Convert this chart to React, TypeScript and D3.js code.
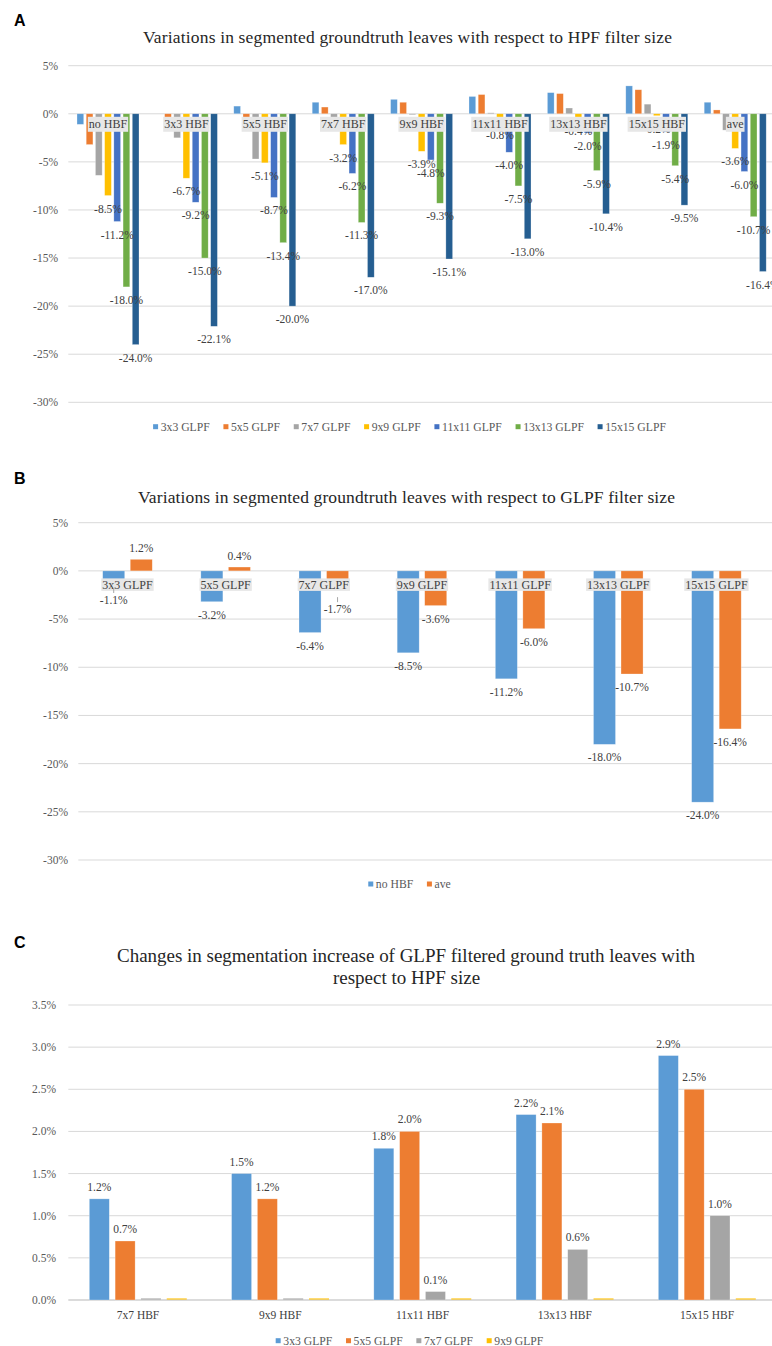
import React from "react";
import * as d3 from "d3";

// ---------- DATA ----------
const glpfSeries = ["3x3 GLPF", "5x5 GLPF", "7x7 GLPF", "9x9 GLPF", "11x11 GLPF", "13x13 GLPF", "15x15 GLPF"];
const hbfCategories = ["no HBF", "3x3 HBF", "5x5 HBF", "7x7 HBF", "9x9 HBF", "11x11 HBF", "13x13 HBF", "15x15 HBF", "ave"];

// values per GLPF series across the HBF categories (percent)
const g3x3 = [-1.1, 0.0, 0.8, 1.2, 1.5, 1.8, 2.2, 2.9, 1.2];
const g5x5 = [-3.2, -0.5, -0.5, 0.7, 1.2, 2.0, 2.1, 2.5, 0.4];
const g7x7 = [-6.4, -2.5, -4.7, -0.5, -0.1, 0.1, 0.6, 1.0, -1.7];
const g9x9 = [-8.5, -6.7, -5.1, -3.2, -3.9, -0.8, -0.4, -0.2, -3.6];
const g11x11 = [-11.2, -9.2, -8.7, -6.2, -4.8, -4.0, -2.0, -1.9, -6.0];
const g13x13 = [-18.0, -15.0, -13.4, -11.3, -9.3, -7.5, -5.9, -5.4, -10.7];
const g15x15 = [-24.0, -22.1, -20.0, -17.0, -15.1, -13.0, -10.4, -9.5, -16.4];
const seriesValues = [g3x3, g5x5, g7x7, g9x9, g11x11, g13x13, g15x15];

const seriesColors = ["#5B9BD5", "#ED7D31", "#A5A5A5", "#FFC000", "#4472C4", "#70AD47", "#255E91"];

const yTicksAB = [5, 0, -5, -10, -15, -20, -25, -30];
const yTicksC = [0, 0.5, 1.0, 1.5, 2.0, 2.5, 3.0, 3.5];

const panelBSeries = ["no HBF", "ave"];
const panelBColors = ["#5B9BD5", "#ED7D31"];
const panelCCategories = ["7x7 HBF", "9x9 HBF", "11x11 HBF", "13x13 HBF", "15x15 HBF"];
const panelCSeries = ["3x3 GLPF", "5x5 GLPF", "7x7 GLPF", "9x9 GLPF"];

const titleA = "Variations in segmented groundtruth leaves with respect to HPF filter size";
const titleB = "Variations in segmented groundtruth leaves with respect to GLPF filter size";
const titleC1 = "Changes in segmentation increase of GLPF filtered ground truth leaves with";
const titleC2 = "respect to HPF size";

// ---------- HELPERS ----------
const SERIF = "'Liberation Serif', 'Times New Roman', serif";
const SANS = "'Liberation Sans', Arial, sans-serif";
let ctx: CanvasRenderingContext2D | null = null;
function measure(text: string, size: number): number {
  if (!ctx) ctx = document.createElement("canvas").getContext("2d");
  if (!ctx) return text.length * size * 0.5;
  ctx.font = `${size}px 'Liberation Serif'`;
  return ctx.measureText(text).width;
}
const pct0 = (v: number) => `${v}%`;
const pct1 = (v: number) => `${v.toFixed(1)}%`;

const GRID = "#d9d9d9";
const TICK = "#595959";
const LABEL = "#404040";
const BOX = "#e7e7e7";

function Legend({ items, colors, cy, center }: { items: string[]; colors: string[]; cy: number; center: number }) {
  const fs = 11.7;
  const sq = 5;
  const gapTxt = 2.6;
  const gapItem = 13.7;
  const widths = items.map((t) => sq + gapTxt + measure(t, fs));
  const total = d3.sum(widths) + gapItem * (items.length - 1);
  let x = center - total / 2;
  return (
    <g>
      {items.map((t, i) => {
        const x0 = x;
        x += widths[i] + gapItem;
        return (
          <g key={t}>
            <rect x={x0} y={cy - sq / 2} width={sq} height={sq} fill={colors[i]} />
            <text x={x0 + sq + gapTxt} y={cy} dy="0.35em" fontSize={fs} fontFamily={SERIF} fill={TICK}>
              {t}
            </text>
          </g>
        );
      })}
    </g>
  );
}

function CatBox({ label, cx, top, h, fs }: { label: string; cx: number; top: number; h: number; fs: number }) {
  const w = measure(label, fs) + 2;
  return (
    <g>
      <rect x={cx - w / 2} y={top} width={w} height={h} fill={BOX} />
      <text x={cx} y={top + h / 2} dy="0.35em" textAnchor="middle" fontSize={fs} fontFamily={SERIF} fill={LABEL}>
        {label}
      </text>
    </g>
  );
}

// ---------- PANEL A ----------
function PanelA() {
  const x = d3.scaleBand<string>().domain(hbfCategories).range([68.8, 774.4]).paddingInner(0.209).paddingOuter(0.1045);
  const xi = d3.scaleBand<string>().domain(glpfSeries).range([0, x.bandwidth()]).paddingInner(0.27);
  const y = d3.scaleLinear().domain([-30, 5]).range([402.3, 65.7]);
  const y0 = y(0);
  return (
    <g>
      <text x={14} y={26} fontFamily={SANS} fontWeight="bold" fontSize={16} fill="#000">A</text>
      <text x={407.5} y={43} textAnchor="middle" fontSize={17.5} fontFamily={SERIF} fill="#262626" textLength={529} lengthAdjust="spacing">
        {titleA}
      </text>
      {yTicksAB.map((t) => (
        <g key={t}>
          <line x1={68.3} x2={772} y1={y(t)} y2={y(t)} stroke={GRID} strokeWidth={1} />
          <text x={58} y={y(t)} dy="0.35em" textAnchor="end" fontSize={11.5} fontFamily={SERIF} fill={TICK}>{pct0(t)}</text>
        </g>
      ))}
      {glpfSeries.map((s, si) =>
        hbfCategories.map((c, ci) => {
          const v = seriesValues[si][ci];
          const yv = y(v);
          return (
            <rect key={s + c} x={(x(c) as number) + (xi(s) as number)} y={Math.min(yv, y0)} width={xi.bandwidth()}
              height={Math.abs(yv - y0)} fill={seriesColors[si]} stroke="#fff" strokeOpacity={0.45} strokeWidth={0.6} />
          );
        })
      )}
      {glpfSeries.map((s, si) =>
        si < 3
          ? null
          : hbfCategories.map((c, ci) => {
              const v = seriesValues[si][ci];
              const cx = (x(c) as number) + (xi(s) as number) + xi.bandwidth() / 2;
              return (
                <text key={"l" + s + c} x={cx} y={y(v) + 13} dy="0.35em" textAnchor="middle" fontSize={11.5} fontFamily={SERIF} fill={LABEL}>
                  {pct1(v)}
                </text>
              );
            })
      )}
      {hbfCategories.map((c) => (
        <CatBox key={"b" + c} label={c} cx={(x(c) as number) + x.bandwidth() / 2} top={y0 + 3} h={15} fs={12} />
      ))}
      <Legend items={glpfSeries} colors={seriesColors} cy={426.7} center={409.5} />
    </g>
  );
}

// ---------- PANEL B ----------
function PanelB() {
  const x = d3.scaleBand<string>().domain(glpfSeries).range([78.4, 765.5]).paddingInner(0.495).paddingOuter(0.2475);
  const xi = d3.scaleBand<string>().domain(panelBSeries).range([0, x.bandwidth()]).paddingInner(0.2);
  const y = d3.scaleLinear().domain([-30, 5]).range([860, 522.7]);
  const y0 = y(0);
  const boxTop = y0 + 7.5;
  const boxH = 12.5;
  const vals = (si: number) => [seriesValues[si][0], seriesValues[si][hbfCategories.length - 1]];
  return (
    <g>
      <text x={14} y={484} fontFamily={SANS} fontWeight="bold" fontSize={16} fill="#000">B</text>
      <text x={406.5} y={502.5} textAnchor="middle" fontSize={17.5} fontFamily={SERIF} fill="#262626" textLength={537} lengthAdjust="spacing">
        {titleB}
      </text>
      {yTicksAB.map((t) => (
        <g key={t}>
          <line x1={78.3} x2={772} y1={y(t)} y2={y(t)} stroke={GRID} strokeWidth={1} />
          <text x={68} y={y(t)} dy="0.35em" textAnchor="end" fontSize={11.5} fontFamily={SERIF} fill={TICK}>{pct0(t)}</text>
        </g>
      ))}
      {glpfSeries.map((c, ci) =>
        vals(ci).map((v, k) => {
          const yv = y(v);
          return (
            <rect key={c + k} x={(x(c) as number) + (xi(panelBSeries[k]) as number)} y={Math.min(yv, y0)}
              width={xi.bandwidth()} height={Math.abs(yv - y0)} fill={panelBColors[k]} stroke="#fff" strokeOpacity={0.45} strokeWidth={0.6} />
          );
        })
      )}
      {glpfSeries.map((c) => (
        <CatBox key={"b" + c} label={c} cx={(x(c) as number) + x.bandwidth() / 2} top={boxTop} h={boxH} fs={12} />
      ))}
      {glpfSeries.map((c, ci) =>
        vals(ci).map((v, k) => {
          const cx = (x(c) as number) + (xi(panelBSeries[k]) as number) + xi.bandwidth() / 2;
          const yv = y(v);
          const leader = v < 0 && yv < boxTop + boxH;
          const ly = v >= 0 ? yv - 11 : leader ? Math.max(yv + 13, boxTop + boxH + 6) + (yv - boxTop) : yv + 13;
          return (
            <g key={"l" + c + k}>
              {leader && <line x1={cx} x2={cx} y1={ly - 12} y2={ly - 7} stroke="#a6a6a6" strokeWidth={1} />}
              <text x={cx} y={ly} dy="0.35em" textAnchor="middle" fontSize={11.5} fontFamily={SERIF} fill={LABEL}>
                {pct1(v)}
              </text>
            </g>
          );
        })
      )}
      <Legend items={panelBSeries} colors={panelBColors} cy={884} center={409.5} />
    </g>
  );
}

// ---------- PANEL C ----------
function PanelC() {
  const x = d3.scaleBand<string>().domain(panelCCategories).range([66.9, 778.2]).paddingInner(0.315).paddingOuter(0.1575);
  const xi = d3.scaleBand<string>().domain(panelCSeries).range([0, x.bandwidth()]).paddingInner(0.225);
  const y = d3.scaleLinear().domain([0, 3.5]).range([1300, 1005]);
  const y0 = y(0);
  const offset = hbfCategories.indexOf(panelCCategories[0]);
  return (
    <g>
      <text x={14} y={948} fontFamily={SANS} fontWeight="bold" fontSize={16} fill="#000">C</text>
      <text x={406} y={962} textAnchor="middle" fontSize={19} fontFamily={SERIF} fill="#262626" textLength={578} lengthAdjust="spacing">
        {titleC1}
      </text>
      <text x={406.5} y={983.5} textAnchor="middle" fontSize={19} fontFamily={SERIF} fill="#262626">
        {titleC2}
      </text>
      {yTicksC.map((t) => (
        <g key={t}>
          <line x1={68.3} x2={772} y1={y(t)} y2={y(t)} stroke={t === 0 ? "#cfcfcf" : GRID} strokeWidth={t === 0 ? 1.4 : 1} />
          <text x={56} y={y(t)} dy="0.35em" textAnchor="end" fontSize={11.5} fontFamily={SERIF} fill={TICK}>{pct1(t)}</text>
        </g>
      ))}
      {panelCSeries.map((s, si) =>
        panelCCategories.map((c, ci) => {
          const v = seriesValues[si][ci + offset];
          const bx = (x(c) as number) + (xi(s) as number);
          if (v <= 0) {
            return <rect key={s + c} x={bx} y={y0 - 2} width={xi.bandwidth()} height={2} fill={seriesColors[si]} opacity={0.55} />;
          }
          const yv = y(v);
          return (
            <g key={s + c}>
              <rect x={bx} y={yv} width={xi.bandwidth()} height={y0 - yv} fill={seriesColors[si]} stroke="#fff" strokeOpacity={0.45} strokeWidth={0.6} />
              <text x={bx + xi.bandwidth() / 2} y={yv - 12} dy="0.35em" textAnchor="middle" fontSize={11.5} fontFamily={SERIF} fill={LABEL}>
                {pct1(v)}
              </text>
            </g>
          );
        })
      )}
      {panelCCategories.map((c) => (
        <text key={"c" + c} x={(x(c) as number) + x.bandwidth() / 2} y={1315} dy="0.35em" textAnchor="middle" fontSize={11.5} fontFamily={SERIF} fill={LABEL}>
          {c}
        </text>
      ))}
      <Legend items={panelCSeries} colors={seriesColors} cy={1340.7} center={409.5} />
    </g>
  );
}

export default function App() {
  return (
    <svg width={772} height={1346} style={{ position: "absolute", left: 0, top: 0, background: "#fff" }}>
      <rect x={0} y={0} width={772} height={1346} fill="#fff" />
      <PanelA />
      <PanelB />
      <PanelC />
    </svg>
  );
}
